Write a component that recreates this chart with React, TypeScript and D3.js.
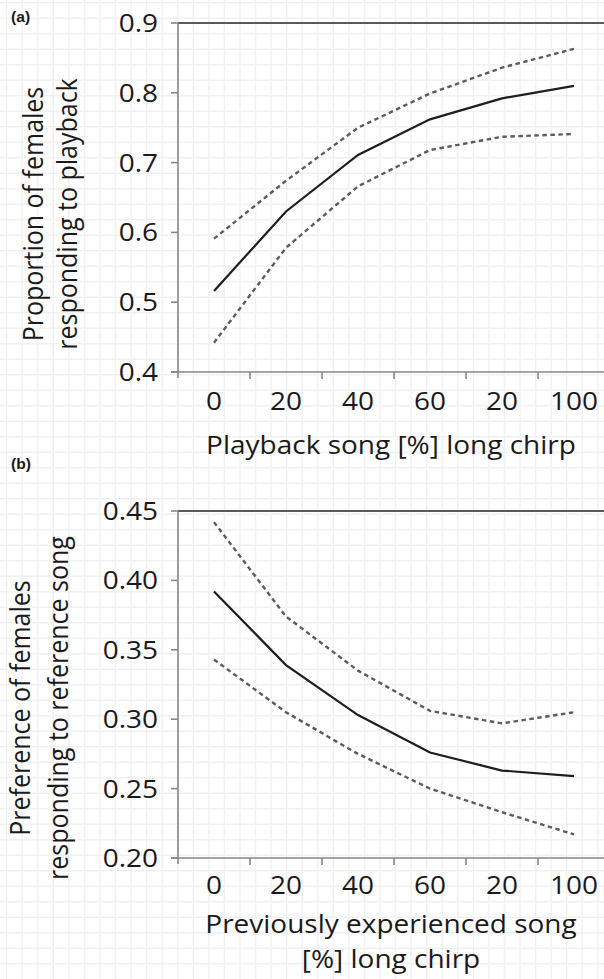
import React, { useEffect } from "react";
import * as d3 from "d3";

// ---- data ----
const xLabels = ["0", "20", "40", "60", "20", "100"];

const aMean = [0.516, 0.630, 0.711, 0.762, 0.792, 0.810];
const aUpper = [0.591, 0.674, 0.750, 0.799, 0.836, 0.863];
const aLower = [0.442, 0.578, 0.666, 0.718, 0.737, 0.741];
const aTicks = [0.4, 0.5, 0.6, 0.7, 0.8, 0.9];

const bMean = [0.392, 0.339, 0.303, 0.276, 0.263, 0.259];
const bUpper = [0.442, 0.374, 0.335, 0.306, 0.297, 0.305];
const bLower = [0.343, 0.305, 0.275, 0.250, 0.233, 0.217];
const bTicks = [0.2, 0.25, 0.3, 0.35, 0.4, 0.45];

const W = 604;
const H = 979;
const FONT = "'Open Sans', 'Noto Sans', sans-serif";
const SX = 1.12;
const FS = 25;

type PanelProps = {
  top: number;
  bottom: number;
  domain: [number, number];
  ticks: number[];
  fmt: (v: number) => string;
  mean: number[];
  upper: number[];
  lower: number[];
  tag: string;
  tagY: number;
  yTitle: string[];
  yTitleX: number[];
  yTitleCY: number;
  xTitle: string[];
  xTitleY: number[];
  xTickY: number;
};

const LEFT = 178;
const RIGHT = 610;

function Panel(p: PanelProps) {
  const idx = xLabels.map((_, i) => String(i));
  const x = d3.scaleBand<string>().domain(idx).range([LEFT, RIGHT]).padding(0);
  const y = d3.scaleLinear().domain(p.domain).range([p.bottom, p.top]);
  const cx = (i: number) => (x(String(i)) as number) + x.bandwidth() / 2;
  const line = d3
    .line<number>()
    .x((_, i) => cx(i))
    .y((d) => y(d));
  const boundaries = d3.range(xLabels.length + 1).map((i) => LEFT + i * x.bandwidth());
  const axisColor = "#878787";
  return (
    <g>
      {/* top border line */}
      <line x1={LEFT} x2={W} y1={y(p.domain[1])} y2={y(p.domain[1])} stroke="#5a5a5a" strokeWidth={2} />
      {/* y axis */}
      <line x1={LEFT} x2={LEFT} y1={p.top} y2={p.bottom + 6} stroke={axisColor} strokeWidth={1.6} />
      {p.ticks.map((t) => (
        <g key={t}>
          <line x1={LEFT - 7} x2={LEFT} y1={y(t)} y2={y(t)} stroke={axisColor} strokeWidth={1.6} />
          <text
            transform={`translate(158,${y(t) + 8.9}) scale(${SX},1)`}
            textAnchor="end"
            fontFamily={FONT}
            fontSize={FS}
            fill="#1a1a1a"
          >
            {p.fmt(t)}
          </text>
        </g>
      ))}
      {/* x axis */}
      <line x1={LEFT - 7} x2={W} y1={p.bottom} y2={p.bottom} stroke={axisColor} strokeWidth={1.6} />
      {boundaries.slice(1).map((b, i) => (
        <line key={i} x1={b} x2={b} y1={p.bottom} y2={p.bottom + 7} stroke={axisColor} strokeWidth={1.6} />
      ))}
      {xLabels.map((l, i) => (
        <text
          key={i}
          transform={`translate(${cx(i)},${p.xTickY}) scale(${SX},1)`}
          textAnchor="middle"
          fontFamily={FONT}
          fontSize={FS}
          fill="#1a1a1a"
        >
          {l}
        </text>
      ))}
      {/* series */}
      <path d={line(p.upper) || ""} fill="none" stroke="#5c5c5c" strokeWidth={2.4} strokeDasharray="4.5,3.5" />
      <path d={line(p.lower) || ""} fill="none" stroke="#5c5c5c" strokeWidth={2.4} strokeDasharray="4.5,3.5" />
      <path d={line(p.mean) || ""} fill="none" stroke="#1e1e1e" strokeWidth={2.2} />
      {/* titles */}
      {p.xTitle.map((t, i) => (
        <text
          key={i}
          transform={`translate(${(LEFT + RIGHT) / 2 - 3},${p.xTitleY[i]}) scale(${SX},1)`}
          textAnchor="middle"
          fontFamily={FONT}
          fontSize={FS}
          fill="#1a1a1a"
        >
          {t}
        </text>
      ))}
      {p.yTitle.map((t, i) => (
        <text
          key={i}
          transform={`translate(${p.yTitleX[i]},${p.yTitleCY}) scale(${SX},1) rotate(-90)`}
          textAnchor="middle"
          fontFamily={FONT}
          fontSize={FS}
          fill="#1a1a1a"
        >
          {t}
        </text>
      ))}
      <text
        transform={`translate(11,${p.tagY}) scale(${SX},1)`}
        fontFamily="'Liberation Sans', Arial, sans-serif"
        fontWeight="bold"
        fontSize={14}
        fill="#1a1a1a"
      >
        {p.tag}
      </text>
    </g>
  );
}

export default function App() {
  useEffect(() => {
    document.body.style.margin = "0";
  }, []);
  const gridX = d3.range(193.3 - 15.56 * 12, W, 15.56);
  const gridY = d3.range(591.7 - 15.5 * 38, H, 15.5);
  return (
    <svg width={W} height={H} style={{ display: "block", background: "#fff" }}>
      <g stroke="#f1f1f1" strokeWidth={1.4}>
        {gridX.map((g, i) => (
          <line key={"gx" + i} x1={g} x2={g} y1={0} y2={H} />
        ))}
        {gridY.map((g, i) => (
          <line key={"gy" + i} x1={0} x2={W} y1={g} y2={g} />
        ))}
      </g>
      <Panel
        top={23}
        bottom={372}
        domain={[0.4, 0.9]}
        ticks={aTicks}
        fmt={d3.format(".1f")}
        mean={aMean}
        upper={aUpper}
        lower={aLower}
        tag="(a)"
        tagY={22}
        yTitle={["Proportion of females", "responding to playback"]}
        yTitleX={[43, 77]}
        yTitleCY={214}
        xTitle={["Playback song [%] long chirp"]}
        xTitleY={[454]}
        xTickY={410}
      />
      <Panel
        top={511}
        bottom={858}
        domain={[0.2, 0.45]}
        ticks={bTicks}
        fmt={d3.format(".2f")}
        mean={bMean}
        upper={bUpper}
        lower={bLower}
        tag="(b)"
        tagY={469}
        yTitle={["Preference of females", "responding to reference song"]}
        yTitleX={[30, 68]}
        yTitleCY={708}
        xTitle={["Previously experienced song", "[%] long chirp"]}
        xTitleY={[933, 968]}
        xTickY={894}
      />
    </svg>
  );
}
